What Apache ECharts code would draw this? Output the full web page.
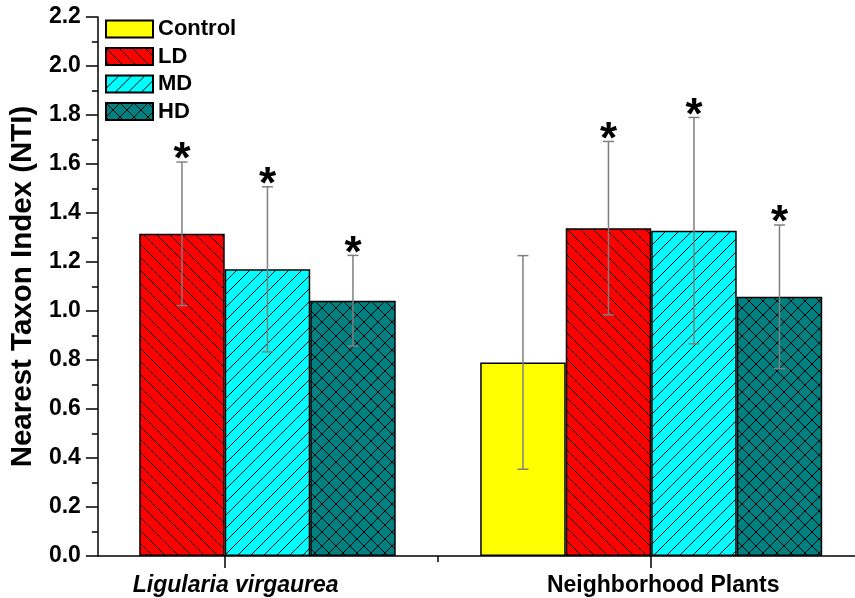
<!DOCTYPE html>
<html>
<head>
<meta charset="utf-8">
<script src="https://cdn.jsdelivr.net/npm/echarts@6/dist/echarts.min.js"></script>
<style>
  html, body { margin: 0; padding: 0; background: #fff; }
  #chart { width: 855px; height: 598px; }
</style>
</head>
<body>
<div id="chart"></div>
<script>
// Groups on the x axis (placed at x = 1 and x = 2)
const categories = ['Ligularia virgaurea', 'Neighborhood Plants'];
const treatments = ['Control', 'LD', 'MD', 'HD'];

// Mean NTI per group for each treatment (null = not measured)
const controlMean = [null, 0.79];
const ldMean = [1.315, 1.338];
const mdMean = [1.170, 1.328];
const hdMean = [1.042, 1.058];

// Error bar half-lengths
const controlErr = [null, 0.436];
const ldErr = [0.293, 0.354];
const mdErr = [0.337, 0.462];
const hdErr = [0.185, 0.293];

// Significance markers (*)
const controlSig = [false, false];
const ldSig = [true, true];
const mdSig = [true, true];
const hdSig = [true, true];

const yTicks = [0, 0.2, 0.4, 0.6, 0.8, 1.0, 1.2, 1.4, 1.6, 1.8, 2.0, 2.2];

const FONT = 'Liberation Sans, Arial, Helvetica, sans-serif';
const BAR_W = 85.5;

// Hatch tiles used as bar fills
function hatch(bg, kinds, step, lineColor) {
  const c = document.createElement('canvas');
  c.width = step; c.height = step;
  const g = c.getContext('2d');
  g.fillStyle = bg;
  g.fillRect(0, 0, step, step);
  g.strokeStyle = lineColor;
  g.lineWidth = 1;
  kinds.forEach(function (k) {
    for (let i = -1; i <= 1; i++) {
      g.beginPath();
      if (k === 'back') {
        g.moveTo(i * step, 0);
        g.lineTo(i * step + step, step);
      } else {
        g.moveTo(i * step, step);
        g.lineTo(i * step + step, 0);
      }
      g.stroke();
    }
  });
  return { image: c, repeat: 'repeat' };
}

const fills = [
  '#FFFF00',
  hatch('#FF0000', ['back'], 13, '#000'),
  hatch('#00FFFF', ['fwd'], 13, '#000'),
  hatch('#008080', ['back', 'fwd'], 14, '#000')
];

const means = [controlMean, ldMean, mdMean, hdMean];
const errs = [controlErr, ldErr, mdErr, hdErr];
const sigs = [controlSig, ldSig, mdSig, hdSig];

const barSeries = treatments.map(function (name, k) {
  const data = [];
  means[k].forEach(function (v, g) {
    if (v !== null) data.push([g + 1, v]);
  });
  return {
    name: name,
    type: 'bar',
    xAxisIndex: 0,
    barWidth: BAR_W,
    barGap: '0%',
    data: data,
    itemStyle: { color: fills[k], borderColor: '#000', borderWidth: 1.5 },
    emphasis: { disabled: true },
    z: 2
  };
});

// Error bar records: [x, mean, err, treatment index, significant]
const errData = [];
treatments.forEach(function (name, k) {
  means[k].forEach(function (v, g) {
    if (v !== null) errData.push([g + 1, v, errs[k][g], k, sigs[k][g] ? 1 : 0]);
  });
});

const errSeries = {
  type: 'custom',
  xAxisIndex: 0,
  data: errData,
  z: 5,
  silent: true,
  encode: { x: 0, y: 1 },
  renderItem: function (params, api) {
    const x = api.value(0), m = api.value(1), e = api.value(2);
    const k = api.value(3), sig = api.value(4);
    const off = (k - 1.5) * BAR_W;
    const hi = api.coord([x, m + e]);
    const lo = api.coord([x, m - e]);
    const cx = hi[0] + off;
    const cap = 5.5;
    const st = { stroke: '#7f7f7f', lineWidth: 1.5 };
    const children = [
      { type: 'line', shape: { x1: cx, y1: hi[1], x2: cx, y2: lo[1] }, style: st },
      { type: 'line', shape: { x1: cx - cap, y1: hi[1], x2: cx + cap, y2: hi[1] }, style: st },
      { type: 'line', shape: { x1: cx - cap, y1: lo[1], x2: cx + cap, y2: lo[1] }, style: st }
    ];
    if (sig) {
      children.push({
        type: 'text',
        x: cx, y: hi[1] - 1,
        style: {
          text: '*', fill: '#000',
          font: 'bold 44px ' + FONT,
          align: 'center', verticalAlign: 'middle'
        }
      });
    }
    return { type: 'group', children: children };
  }
};

const X_MIN = 0.7026, X_MAX = 2.4778;

const chart = echarts.init(document.getElementById('chart'), null, { renderer: 'canvas' });
chart.setOption({
  animation: false,
  backgroundColor: '#fff',
  textStyle: { fontFamily: FONT },
  grid: { left: 97, right: 0, top: 17, bottom: 42, containLabel: false },
  legend: {
    data: treatments,
    orient: 'vertical',
    left: 105, top: 18,
    padding: 0,
    itemWidth: 47, itemHeight: 17, itemGap: 5.5,
    icon: 'rect',
    selectedMode: false,
    textStyle: { fontSize: 22, fontWeight: 'bold', color: '#000', fontFamily: FONT }
  },
  xAxis: [{
    type: 'value',
    min: X_MIN, max: X_MAX,
    position: 'bottom',
    axisLine: { show: true, lineStyle: { color: '#000', width: 1.5 } },
    axisTick: { show: true, customValues: [1, 2], length: 12, lineStyle: { color: '#000', width: 1.5 } },
    axisLabel: {
      show: true,
      customValues: [1, 2],
      margin: 18,
      formatter: function (v) {
        const i = Math.round(v) - 1;
        return i === 0 ? '{it|' + categories[0] + '}' : '{n|' + categories[1] + '}';
      },
      rich: {
        it: { fontSize: 23, fontWeight: 'bold', fontStyle: 'italic', color: '#000', fontFamily: FONT, padding: [0, 0, 0, 22] },
        n: { fontSize: 23, fontWeight: 'bold', color: '#000', fontFamily: FONT, padding: [0, 0, 0, 24] }
      }
    },
    splitLine: { show: false }
  }, {
    type: 'value',
    min: X_MIN, max: X_MAX,
    position: 'bottom',
    axisLine: { show: false },
    axisTick: { show: true, customValues: [1.5], length: 6, lineStyle: { color: '#000', width: 1.5 } },
    axisLabel: { show: false },
    splitLine: { show: false }
  }],
  yAxis: {
    type: 'value',
    min: yTicks[0], max: yTicks[yTicks.length - 1], interval: 0.2,
    name: 'Nearest Taxon Index (NTI)',
    nameLocation: 'middle',
    nameGap: 59,
    nameTextStyle: { fontSize: 29.5, fontWeight: 'bold', color: '#000', fontFamily: FONT },
    axisLine: { show: true, lineStyle: { color: '#000', width: 1.5 } },
    axisTick: { show: true, length: 12, lineStyle: { color: '#000', width: 1.5 } },
    minorTick: { show: true, splitNumber: 2, length: 6, lineStyle: { color: '#000', width: 1.5 } },
    axisLabel: {
      margin: 17, fontSize: 23, fontWeight: 'bold', color: '#000', fontFamily: FONT,
      formatter: function (v) { return v.toFixed(1); }
    },
    splitLine: { show: false }
  },
  series: barSeries.concat([errSeries])
});
</script>
</body>
</html>
